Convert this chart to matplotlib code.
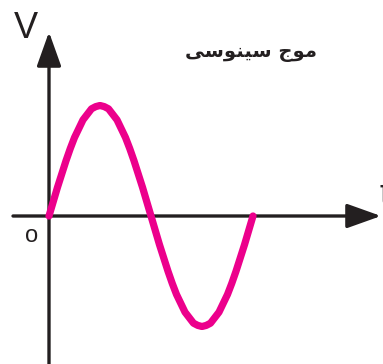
import matplotlib
matplotlib.use('Agg')
import matplotlib.pyplot as plt

# one period of the wave (t in periods, V in amplitudes)
t_vals = [i / 48 for i in range(49)]
v_vals = [0.0, 0.13, 0.26, 0.38, 0.5, 0.61, 0.71, 0.79, 0.87, 0.92, 0.97, 0.99,
          1.0, 0.99, 0.97, 0.92, 0.87, 0.79, 0.71, 0.61, 0.5, 0.38, 0.26, 0.13,
          0.0, -0.13, -0.26, -0.38, -0.5, -0.61, -0.71, -0.79, -0.87, -0.92, -0.97, -0.99,
          -1.0, -0.99, -0.97, -0.92, -0.87, -0.79, -0.71, -0.61, -0.5, -0.38, -0.26, -0.13,
          0.0]

title = 'موج سینوسی'
y_label = 'V'
x_label = 't'
origin_label = 'o'

MAGENTA = '#EC008C'
DARK = '#231F20'

# presentation forms: isolated, final, initial, medial
FORMS = {
    'م': ('\uFEE1', '\uFEE2', '\uFEE3', '\uFEE4'),
    'و': ('\uFEED', '\uFEEE', None, None),
    'ج': ('\uFE9D', '\uFE9E', '\uFE9F', '\uFEA0'),
    'س': ('\uFEB1', '\uFEB2', '\uFEB3', '\uFEB4'),
    'ن': ('\uFEE5', '\uFEE6', '\uFEE7', '\uFEE8'),
    'ی': ('\uFEEF', '\uFEF0', '\uFEF3', '\uFEF4'),
}


def shape(text):
    # join the letters by hand and flip for left-to-right drawing
    out = []
    for i, ch in enumerate(text):
        if ch not in FORMS:
            out.append(ch)
            continue
        prev = text[i - 1] if i > 0 else ' '
        nxt = text[i + 1] if i + 1 < len(text) else ' '
        join_prev = prev in FORMS and FORMS[prev][2] is not None
        join_next = nxt in FORMS and FORMS[ch][2] is not None
        iso, fin, ini, med = FORMS[ch]
        if join_prev and join_next:
            out.append(med)
        elif join_prev:
            out.append(fin)
        elif join_next:
            out.append(ini)
        else:
            out.append(iso)
    return ''.join(reversed(out))


W, H = 383, 364
x0, y0 = 49, 216          # origin in pixels
sx, sy = 204, 110.5       # pixels per period / per amplitude


def px(x, y):
    return (x - x0) / sx, (y0 - y) / sy


fig = plt.figure(figsize=(W / 100, H / 100), dpi=100)
ax = fig.add_axes([0, 0, 1, 1])
ax.set_xlim(px(0, 0)[0], px(W, 0)[0])
ax.set_ylim(px(0, H)[1], px(0, 0)[1])
ax.axis('off')

arrow = dict(arrowstyle='-|>,head_length=21,head_width=7.5', color=DARK,
             lw=2.4, mutation_scale=1, shrinkA=0, shrinkB=0)
ax.annotate('', xy=px(381, y0), xytext=px(13, y0), arrowprops=arrow)
ax.annotate('', xy=px(x0, 32), xytext=px(x0, H + 5), arrowprops=arrow)

ax.plot(t_vals, v_vals, color=MAGENTA, lw=5.2, solid_capstyle='round',
        solid_joinstyle='round', zorder=3)

ax.text(*px(25.5, 38), y_label, fontsize=26, family='Liberation Sans',
        ha='center', va='baseline', color=DARK)
ax.text(*px(379.5, 205), x_label, fontsize=26, family='Liberation Sans',
        ha='left', va='baseline', color=DARK)
ax.text(*px(32, 241.5), origin_label, fontsize=17, family='Liberation Sans',
        ha='center', va='baseline', color=DARK)
ax.text(*px(251, 52), shape(title), fontsize=14, family='DejaVu Sans',
        weight='bold', ha='center', va='center', color=DARK)

fig.savefig('out.png', dpi=100)
